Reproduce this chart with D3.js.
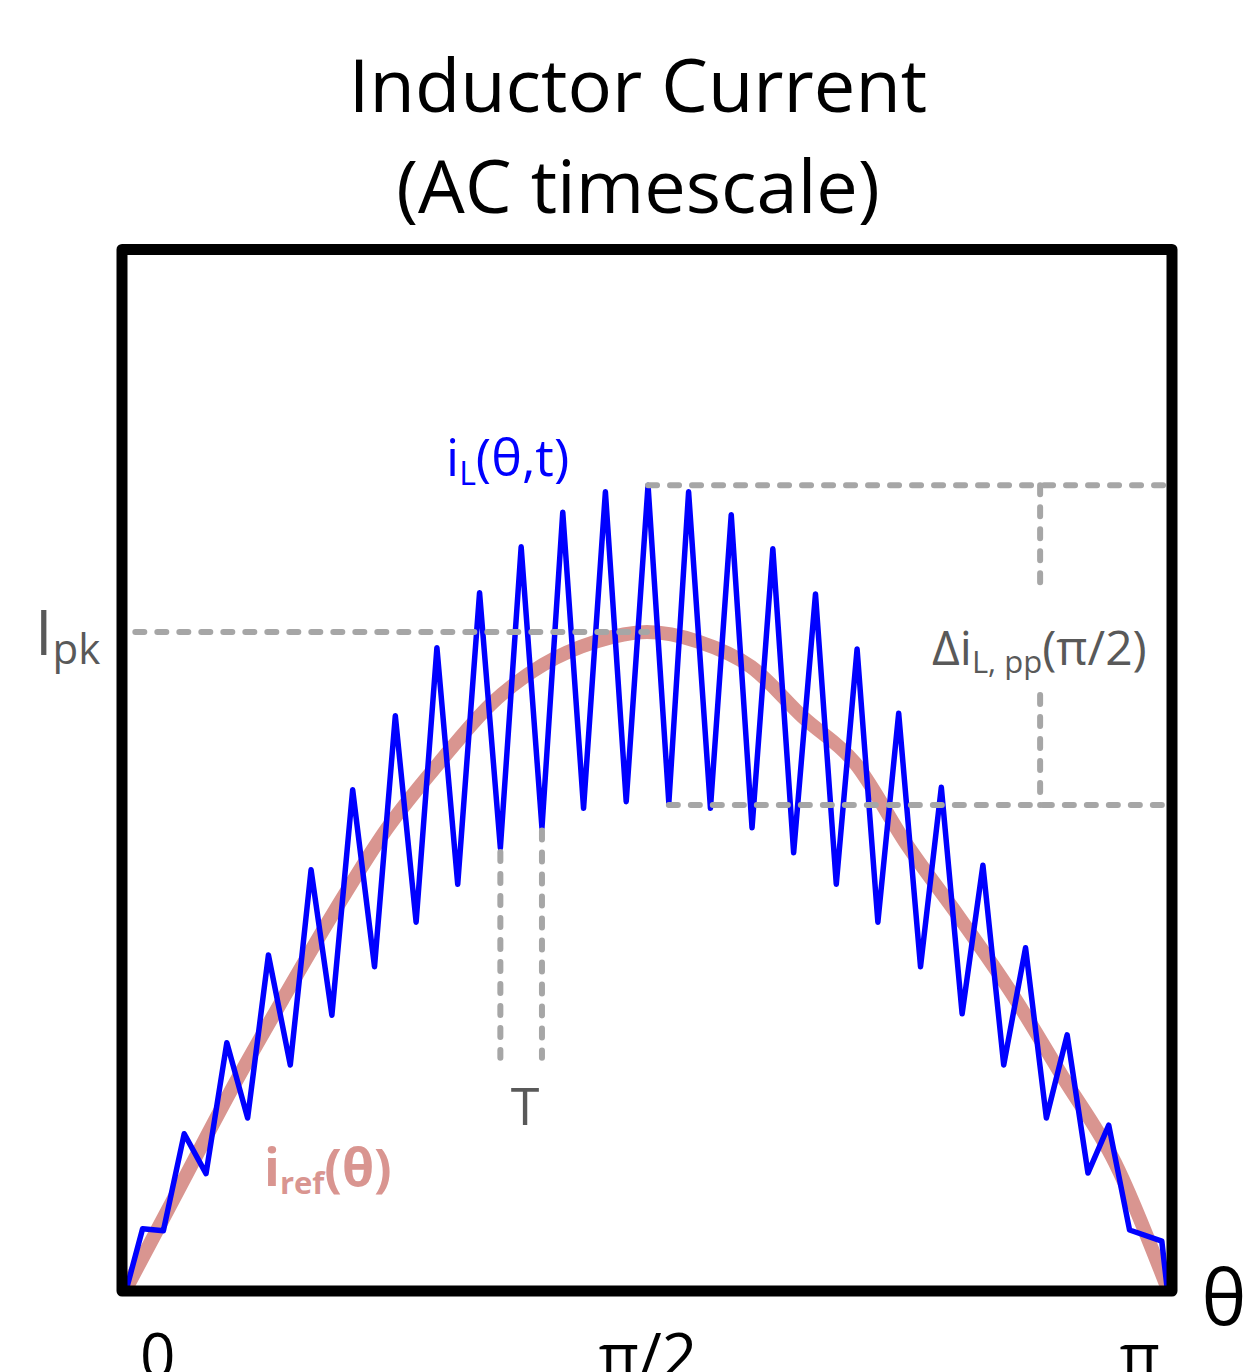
<!DOCTYPE html>
<html>
<head>
<meta charset="utf-8">
<script src="https://cdn.jsdelivr.net/npm/d3@7"></script>
<style>
  body { margin: 0; background: #fff; }
  svg { display: block; font-family: "Open Sans", sans-serif; }
</style>
</head>
<body>
<div id="chart"></div>
<script>
// theta is given as a fraction of pi, currents in units of Ipk
const refTheta   = [0, 0.05, 0.10, 0.15, 0.20, 0.25, 0.30, 0.35, 0.40, 0.45, 0.50, 0.55, 0.60, 0.65, 0.70, 0.75, 0.80, 0.85, 0.90, 0.95, 1];
const refCurrent = [0, 0.15, 0.30, 0.44, 0.575, 0.70, 0.80, 0.89, 0.95, 0.985, 1.0, 0.985, 0.947, 0.87, 0.80, 0.675, 0.565, 0.45, 0.32, 0.19, 0];

const ilTheta = [0, 0.015, 0.035, 0.055, 0.076, 0.096, 0.116, 0.136, 0.157, 0.177, 0.197, 0.217, 0.238, 0.258,
  0.278, 0.298, 0.318, 0.339, 0.359, 0.379, 0.399, 0.419, 0.439, 0.460, 0.480, 0.501, 0.521, 0.540, 0.561,
  0.581, 0.601, 0.621, 0.641, 0.662, 0.682, 0.702, 0.722, 0.742, 0.763, 0.783, 0.803, 0.823, 0.843, 0.864,
  0.884, 0.904, 0.924, 0.944, 0.964, 0.995, 1];
const ilCurrent = [0, 0.089, 0.086, 0.234, 0.173, 0.373, 0.258, 0.507, 0.339, 0.637, 0.415, 0.759, 0.489, 0.872,
  0.557, 0.976, 0.615, 1.060, 0.670, 1.130, 0.701, 1.183, 0.731, 1.214, 0.741, 1.224, 0.739, 1.214, 0.731,
  1.179, 0.701, 1.127, 0.663, 1.058, 0.615, 0.974, 0.557, 0.876, 0.489, 0.763, 0.417, 0.644, 0.339, 0.518,
  0.258, 0.385, 0.174, 0.247, 0.087, 0.070, 0];

const tickValues = [0, 0.5, 1];
const tickLabels = ['0', 'π/2', 'π'];

const ipk = 1.0;
const rippleMax = 1.224;
const rippleMin = 0.736;
const periodStart = 0.359, periodEnd = 0.399;

const W = 1251, H = 1372;
const frame = { left: 122, right: 1172, top: 249.5, bottom: 1291 };

const svg = d3.select('#chart').append('svg')
  .attr('width', W)
  .attr('height', H);

const x = d3.scaleLinear().domain([0, 1]).range([127, 1167]);
const y = d3.scaleLinear().domain([0, 1]).range([1287, 632]);

// title
const title = svg.append('text')
  .attr('text-anchor', 'middle')
  .attr('font-size', 74)
  .attr('fill', '#000');
title.append('tspan').attr('x', 638).attr('y', 112).text('Inductor Current');
title.append('tspan').attr('x', 638).attr('y', 213).text('(AC timescale)');

// reference current
const line = d3.line()
  .x(d => x(d[0]))
  .y(d => y(d[1]));

svg.append('path')
  .datum(d3.zip(refTheta, refCurrent))
  .attr('fill', 'none')
  .attr('stroke', '#d99590')
  .attr('stroke-width', 14)
  .attr('stroke-linejoin', 'round')
  .attr('stroke-linecap', 'round')
  .attr('d', line.curve(d3.curveMonotoneX));

// inductor current
svg.append('path')
  .datum(d3.zip(ilTheta, ilCurrent))
  .attr('fill', 'none')
  .attr('stroke', '#0000ff')
  .attr('stroke-width', 5.5)
  .attr('stroke-linejoin', 'round')
  .attr('stroke-linecap', 'round')
  .attr('d', line.curve(d3.curveLinear));

// dashed guides
const guides = [
  [[0.008, ipk], [0.5, ipk]],
  [[0.501, rippleMax], [0.998, rippleMax]],
  [[0.521, rippleMin], [0.998, rippleMin]],
  [[0.878, rippleMax], [0.878, 1.076]],
  [[0.878, 0.904], [0.878, rippleMin]],
  [[periodStart, 0.664], [periodStart, 0.35]],
  [[periodEnd, 0.697], [periodEnd, 0.35]]
];
svg.selectAll('line.guide')
  .data(guides)
  .enter()
  .append('line')
  .attr('class', 'guide')
  .attr('x1', d => x(d[0][0]))
  .attr('y1', d => y(d[0][1]))
  .attr('x2', d => x(d[1][0]))
  .attr('y2', d => y(d[1][1]))
  .attr('stroke', '#a6a6a6')
  .attr('stroke-width', 6)
  .attr('stroke-linecap', 'round')
  .attr('stroke-dasharray', '9 13');

// frame
svg.append('rect')
  .attr('x', frame.left)
  .attr('y', frame.top)
  .attr('width', frame.right - frame.left)
  .attr('height', frame.bottom - frame.top)
  .attr('fill', 'none')
  .attr('stroke', '#000')
  .attr('stroke-width', 11)
  .attr('stroke-linejoin', 'round');

// labels
const ipkLabel = svg.append('text')
  .attr('x', 35).attr('y', 655)
  .attr('fill', '#595959')
  .attr('font-size', 63);
ipkLabel.append('tspan').text('I');
ipkLabel.append('tspan').attr('font-size', 42).attr('dy', 9).text('pk');

const dLabel = svg.append('text')
  .attr('x', 932).attr('y', 665)
  .attr('fill', '#595959')
  .attr('font-size', 48);
dLabel.append('tspan').text('Δi');
dLabel.append('tspan').attr('font-size', 31).attr('dy', 8).text('L, pp');
dLabel.append('tspan').attr('dy', -8).text('(π/2)');

const ilLabel = svg.append('text')
  .attr('x', 446).attr('y', 476)
  .attr('fill', '#0000ff')
  .attr('font-size', 52);
ilLabel.append('tspan').text('i');
ilLabel.append('tspan').attr('font-size', 32).attr('dy', 9).text('L');
ilLabel.append('tspan').attr('dy', -9).text('(θ,t)');

const refLabel = svg.append('text')
  .attr('x', 264).attr('y', 1186)
  .attr('fill', '#d99590')
  .attr('font-weight', 'bold')
  .attr('font-size', 52);
refLabel.append('tspan').text('i');
refLabel.append('tspan').attr('font-size', 31).attr('dy', 8).text('ref');
refLabel.append('tspan').attr('dy', -8).text('(θ)');

svg.append('text')
  .attr('x', x((periodStart + periodEnd) / 2) + 4).attr('y', 1125)
  .attr('text-anchor', 'middle')
  .attr('fill', '#595959')
  .attr('font-size', 52)
  .text('T');

svg.append('text')
  .attr('x', 1224).attr('y', 1325)
  .attr('text-anchor', 'middle')
  .attr('fill', '#000')
  .attr('font-size', 76)
  .text('θ');

// theta tick labels
const anchors = ['start', 'middle', 'end'];
const offsets = [13, 1, -7];
svg.selectAll('text.tick')
  .data(tickValues)
  .enter()
  .append('text')
  .attr('class', 'tick')
  .attr('x', (d, i) => x(d) + offsets[i])
  .attr('y', 1378)
  .attr('text-anchor', (d, i) => anchors[i])
  .attr('fill', '#000')
  .attr('font-size', 62)
  .text((d, i) => tickLabels[i]);
</script>
</body>
</html>
